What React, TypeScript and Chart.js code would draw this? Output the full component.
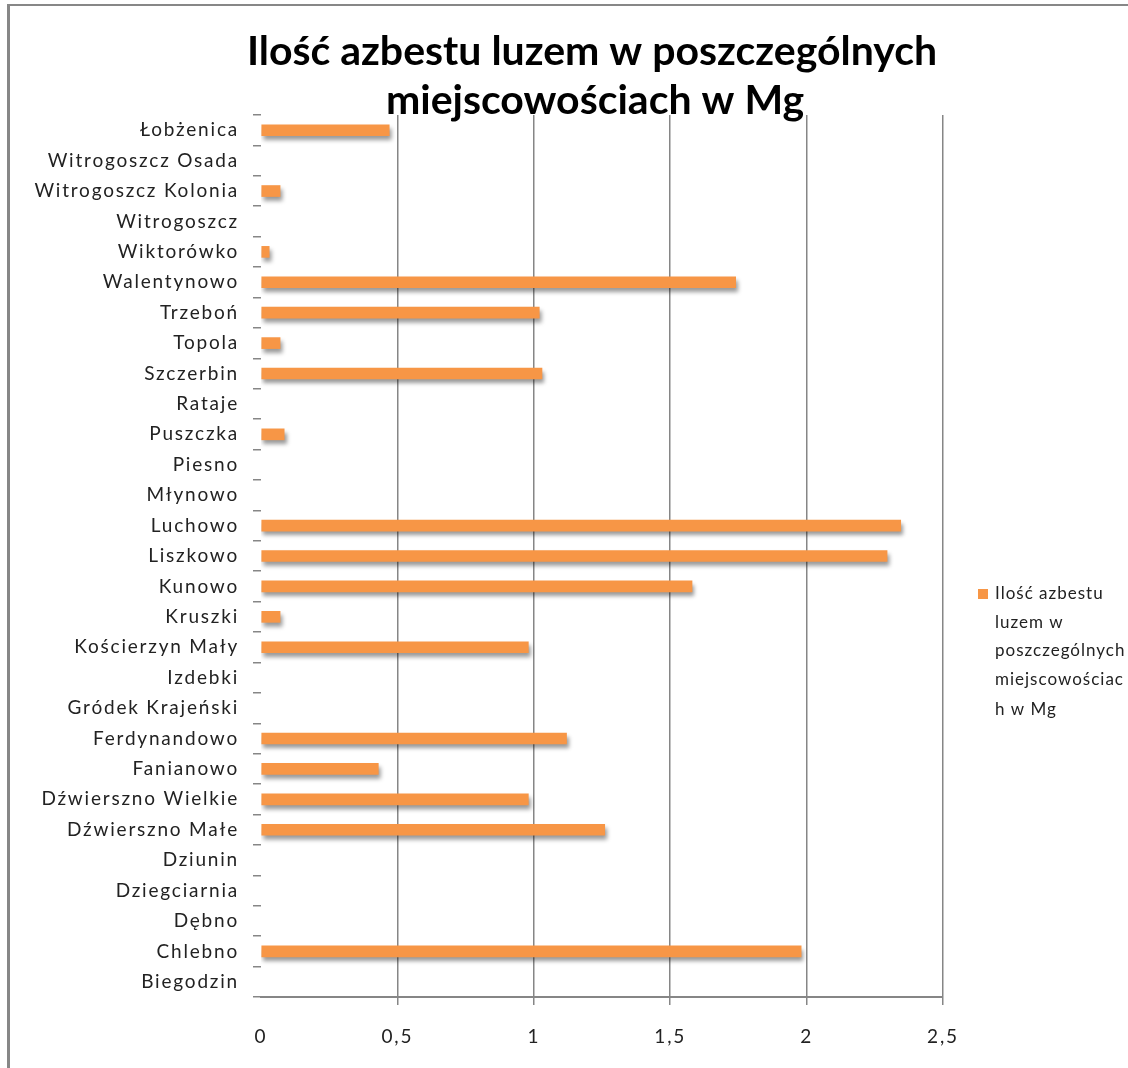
import React, { useEffect, useRef } from 'react';
import { Chart, registerables } from 'chart.js';

Chart.register(...registerables);

const categories = [
  'Łobżenica',
  'Witrogoszcz Osada',
  'Witrogoszcz Kolonia',
  'Witrogoszcz',
  'Wiktorówko',
  'Walentynowo',
  'Trzeboń',
  'Topola',
  'Szczerbin',
  'Rataje',
  'Puszczka',
  'Piesno',
  'Młynowo',
  'Luchowo',
  'Liszkowo',
  'Kunowo',
  'Kruszki',
  'Kościerzyn Mały',
  'Izdebki',
  'Gródek Krajeński',
  'Ferdynandowo',
  'Fanianowo',
  'Dźwierszno Wielkie',
  'Dźwierszno Małe',
  'Dziunin',
  'Dziegciarnia',
  'Dębno',
  'Chlebno',
  'Biegodzin',
];

const values = [
  0.47, 0, 0.07, 0, 0.03, 1.74, 1.02, 0.07, 1.03, 0, 0.085, 0, 0, 2.345, 2.295,
  1.58, 0.07, 0.98, 0, 0, 1.12, 0.43, 0.98, 1.26, 0, 0, 0, 1.98, 0,
];

const xTicks = [0, 0.5, 1, 1.5, 2, 2.5];

const titleLines = ['Ilość azbestu luzem w poszczególnych', 'miejscowościach w Mg'];
const seriesLabel = 'Ilość azbestu luzem w poszczególnych miejscowościach w Mg';
const legendLines = ['Ilość azbestu', 'luzem w', 'poszczególnych', 'miejscowościac', 'h w Mg'];

const ORANGE = '#F79646';
const GRID = '#868686';

const framePlugin = {
  id: 'frame',
  beforeDraw(chart: any) {
    const ctx = chart.ctx;
    ctx.save();
    ctx.fillStyle = '#ffffff';
    ctx.fillRect(0, 0, chart.width, chart.height);
    ctx.strokeStyle = '#878787';
    ctx.lineWidth = 3;
    ctx.beginPath();
    ctx.moveTo(8.5, 4);
    ctx.lineTo(8.5, chart.height);
    ctx.stroke();
    ctx.lineWidth = 2;
    ctx.beginPath();
    ctx.moveTo(7, 5);
    ctx.lineTo(chart.width, 5);
    ctx.stroke();
    ctx.restore();
    ctx.letterSpacing = '1.8px';
  },
};

const shadowPlugin = {
  id: 'barShadow',
  beforeDatasetsDraw(chart: any) {
    const ctx = chart.ctx;
    ctx.save();
    ctx.shadowColor = 'rgba(0,0,0,0.4)';
    ctx.shadowBlur = 4;
    ctx.shadowOffsetX = 2;
    ctx.shadowOffsetY = 4;
  },
  afterDatasetsDraw(chart: any) {
    chart.ctx.restore();
  },
};

const textPlugin = {
  id: 'titleLegend',
  afterDraw(chart: any) {
    const ctx = chart.ctx;
    ctx.save();
    ctx.letterSpacing = '0px';
    ctx.fillStyle = '#000000';
    ctx.textAlign = 'center';
    ctx.textBaseline = 'middle';
    ctx.font = 'bold 41px Lato';
    ctx.fillText(titleLines[0], 592, 52);
    ctx.fillText(titleLines[1], 595, 101);

    ctx.fillStyle = ORANGE;
    ctx.fillRect(978, 589, 10, 10);
    ctx.fillStyle = '#222222';
    ctx.textAlign = 'left';
    ctx.letterSpacing = '1px';
    ctx.font = '17px Lato';
    const ys = [594, 623, 651, 680, 710];
    legendLines.forEach((l, i) => ctx.fillText(l, 995, ys[i]));
    ctx.restore();
    ctx.letterSpacing = '0px';
  },
};

export default function App() {
  const ref = useRef<HTMLCanvasElement>(null);

  useEffect(() => {
    if (!ref.current) return;
    const chart = new Chart(ref.current, {
      type: 'bar',
      data: {
        labels: categories,
        datasets: [
          {
            label: seriesLabel,
            data: values,
            backgroundColor: (c: any) => (c.raw ? ORANGE : 'rgba(0,0,0,0)'),
            barThickness: 11,
          },
        ],
      },
      plugins: [framePlugin, shadowPlugin, textPlugin],
      options: {
        indexAxis: 'y',
        responsive: false,
        animation: false,
        devicePixelRatio: 1,
        layout: { padding: { left: 0, top: 115, right: 185, bottom: 0 } },
        plugins: {
          legend: { display: false },
          title: { display: false },
          tooltip: { enabled: false },
        },
        scales: {
          x: {
            type: 'linear',
            position: 'bottom',
            min: 0,
            max: 2.5,
            afterBuildTicks: (s: any) => {
              s.ticks = xTicks.map((v) => ({ value: v }));
            },
            afterFit: (s: any) => {
              s.height = 71;
            },
            ticks: {
              padding: 20,
              color: '#222222',
              font: { family: 'Lato', size: 19 },
              callback: (v: any) => String(v).replace('.', ','),
            },
            grid: {
              color: (c: any) => (c.index === 0 ? 'rgba(0,0,0,0)' : GRID),
              lineWidth: 1.5,
              tickLength: 8,
              drawTicks: true,
            },
            border: { display: true, color: GRID, width: 2 },
          },
          y: {
            type: 'category',
            afterFit: (s: any) => {
              s.width = 261;
            },
            ticks: {
              padding: 14,
              autoSkip: false,
              color: '#222222',
              font: { family: 'Lato', size: 19 },
            },
            grid: {
              drawOnChartArea: false,
              drawTicks: true,
              tickLength: 8,
              offset: true,
              color: GRID,
              lineWidth: 1.5,
            },
            border: { display: false },
          },
        },
      },
    } as any);
    return () => chart.destroy();
  }, []);

  return (
    <div style={{ position: 'fixed', left: 0, top: 0, width: 1128, height: 1068, background: '#fff' }}>
      <canvas ref={ref} width={1128} height={1068} style={{ display: 'block' }} />
    </div>
  );
}
